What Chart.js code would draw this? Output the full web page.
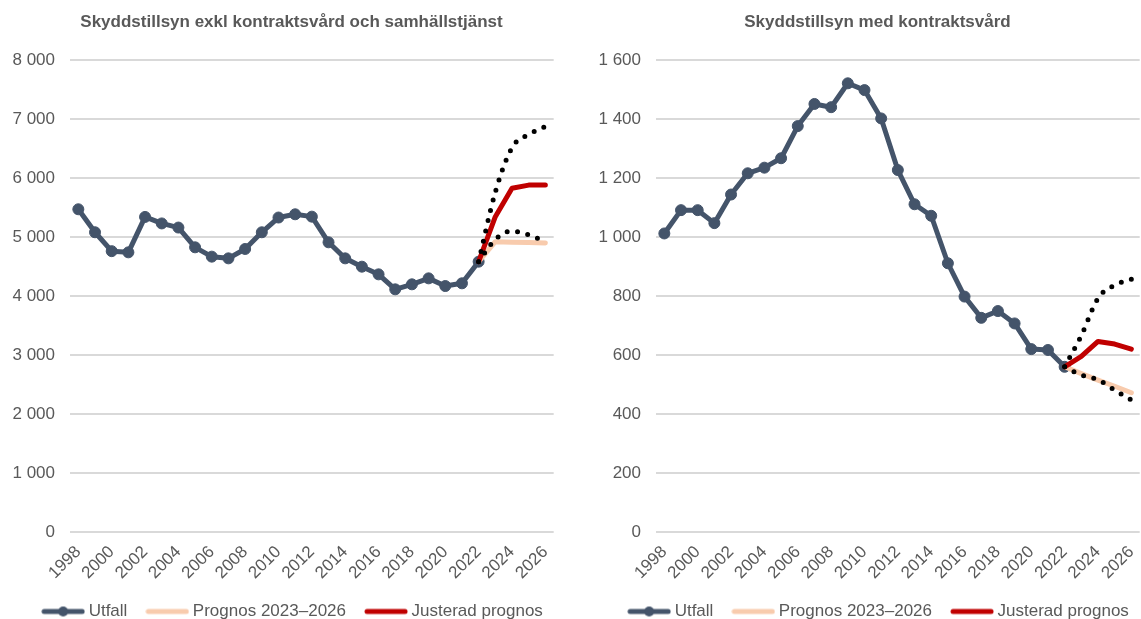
<!DOCTYPE html>
<html lang="sv">
<head>
<meta charset="utf-8">
<title>Skyddstillsyn</title>
<script src="https://cdn.jsdelivr.net/npm/chart.js@4.4.1/dist/chart.umd.min.js"></script>
<style>
  html, body { margin: 0; padding: 0; background: #ffffff; overflow: hidden; }
  #wrap { position: relative; width: 1141px; height: 619px; overflow: hidden; background: #ffffff; }
  #wrap canvas { position: absolute; top: 0; }
  #cLeft { left: 0; }
  #cRight { left: 586px; }
  .title {
    position: absolute; top: 12px; height: 20px; line-height: 20px;
    font: bold 17px "Liberation Sans", Arial, sans-serif; color: #595959;
    text-align: center; white-space: nowrap;
  }
</style>
</head>
<body>
<div id="wrap">
  <canvas id="cLeft" width="570" height="630"></canvas>
  <canvas id="cRight" width="570" height="630"></canvas>
  <div class="title" style="left:0;width:583px">Skyddstillsyn exkl kontraktsvård och samhällstjänst</div>
  <div class="title" style="left:614px;width:527px">Skyddstillsyn med kontraktsvård</div>
</div>
<script>
// Years on the category axis
const years = ['1998', '1999', '2000', '2001', '2002', '2003', '2004', '2005', '2006', '2007',
  '2008', '2009', '2010', '2011', '2012', '2013', '2014', '2015', '2016', '2017',
  '2018', '2019', '2020', '2021', '2022', '2023', '2024', '2025', '2026'];

// Legend names
const seriesNames = ['Utfall', 'Prognos 2023–2026', 'Justerad prognos'];
const scenarioNames = ['Högt scenario', 'Lågt scenario'];

// Skyddstillsyn exkl kontraktsvård och samhällstjänst
const leftUtfall = [5470, 5080, 4760, 4740, 5340, 5230, 5160, 4825, 4667, 4638,
  4797, 5080, 5330, 5385, 5345, 4910, 4638, 4497, 4367, 4113,
  4198, 4299, 4169, 4215, 4582, null, null, null, null];
const leftPrognos = [null, null, null, null, null, null, null, null, null, null,
  null, null, null, null, null, null, null, null, null, null,
  null, null, null, null, 4582, 4920, 4910, 4905, 4900];
const leftJusterad = [null, null, null, null, null, null, null, null, null, null,
  null, null, null, null, null, null, null, null, null, null,
  null, null, null, null, 4582, 5345, 5825, 5880, 5880];
const leftHog = [null, null, null, null, null, null, null, null, null, null,
  null, null, null, null, null, null, null, null, null, null,
  null, null, null, null, 4582, 5760, 6513, 6740, 6870];
const leftLag = [null, null, null, null, null, null, null, null, null, null,
  null, null, null, null, null, null, null, null, null, null,
  null, null, null, null, 4582, 4960, 5100, 5035, 4920];

// Skyddstillsyn med kontraktsvård
const rightUtfall = [1012, 1091, 1091, 1047, 1144, 1216, 1235, 1267, 1376, 1451,
  1440, 1521, 1498, 1402, 1227, 1111, 1072, 911, 798, 726,
  749, 707, 620, 617, 560, null, null, null, null];
const rightPrognos = [null, null, null, null, null, null, null, null, null, null,
  null, null, null, null, null, null, null, null, null, null,
  null, null, null, null, 560, 537, 515, 494, 472];
const rightJusterad = [null, null, null, null, null, null, null, null, null, null,
  null, null, null, null, null, null, null, null, null, null,
  null, null, null, null, 560, 595, 646, 637, 620];
const rightHog = [null, null, null, null, null, null, null, null, null, null,
  null, null, null, null, null, null, null, null, null, null,
  null, null, null, null, 560, 666, 792, 837, 857];
const rightLag = [null, null, null, null, null, null, null, null, null, null,
  null, null, null, null, null, null, null, null, null, null,
  null, null, null, null, 560, 532, 516, 481, 448];

// Y axis ranges
const leftAxis = { max: 8000, step: 1000 };
const rightAxis = { max: 1600, step: 200 };

const COLORS = { utfall: '#44546A', prognos: '#F8CBAD', justerad: '#C00000', scenario: '#000000' };
const TEXT_COLOR = '#595959';
const GRID_COLOR = '#D9D9D9';
const FONT_FAMILY = '"Liberation Sans", Arial, sans-serif';

// Swedish number format with a space as thousands separator
function formatSv(v) {
  return String(v).replace(/\B(?=(\d{3})+(?!\d))/g, ' ');
}

// Small line icons for the legend
function lineIcon(color, withDot) {
  const c = document.createElement('canvas');
  c.width = 44; c.height = 14;
  const g = c.getContext('2d');
  g.strokeStyle = color; g.lineWidth = 5; g.lineCap = 'round';
  g.beginPath(); g.moveTo(3, 7); g.lineTo(41, 7); g.stroke();
  if (withDot) {
    g.fillStyle = color;
    g.beginPath(); g.arc(22, 7, 5, 0, Math.PI * 2); g.fill();
  }
  return c;
}
const legendIcons = [
  lineIcon(COLORS.utfall, true),
  lineIcon(COLORS.prognos, false),
  lineIcon(COLORS.justerad, false)
];

// Moves the legend row sideways after the layout has been computed
const legendShift = {
  id: 'legendShift',
  afterLayout(chart, args, opts) {
    if (chart.legend) {
      chart.legend.left += opts.dx || 0;
      chart.legend.right += opts.dx || 0;
    }
  }
};

function buildChart(canvasId, utfall, prognos, justerad, hog, lag, axis) {
  const solid = { borderWidth: 5, pointRadius: 0, pointHoverRadius: 0, borderJoinStyle: 'round', borderCapStyle: 'round', fill: false };
  const dotted = { borderWidth: 5, borderDash: [0, 10.5], borderCapStyle: 'round', pointRadius: 0, pointHoverRadius: 0,
    cubicInterpolationMode: 'monotone', borderColor: COLORS.scenario, fill: false };
  const datasets = [
    { label: seriesNames[0], data: utfall, borderColor: COLORS.utfall, backgroundColor: COLORS.utfall,
      borderWidth: 5, borderJoinStyle: 'round', pointRadius: 5.5, pointHoverRadius: 5.5, pointBorderWidth: 1,
      pointBackgroundColor: COLORS.utfall, pointBorderColor: COLORS.utfall, order: 5, fill: false },
    Object.assign({ label: seriesNames[1], data: prognos, borderColor: COLORS.prognos, order: 4 }, solid),
    Object.assign({ label: seriesNames[2], data: justerad, borderColor: COLORS.justerad, order: 3 }, solid),
    Object.assign({ label: scenarioNames[0], data: hog, order: 2 }, dotted),
    Object.assign({ label: scenarioNames[1], data: lag, order: 1 }, dotted)
  ];

  return new Chart(document.getElementById(canvasId), {
    type: 'line',
    data: { labels: years, datasets: datasets },
    plugins: [legendShift],
    options: {
      responsive: false,
      animation: false,
      events: [],
      layout: { padding: { top: 60, right: 13, bottom: 0, left: 0 } },
      plugins: {
        legendShift: { dx: 16 },
        title: { display: false },
        tooltip: { enabled: false },
        legend: {
          position: 'bottom',
          align: 'center',
          labels: {
            usePointStyle: true,
            pointStyleWidth: 34,
            padding: 23,
            color: TEXT_COLOR,
            font: { family: FONT_FAMILY, size: 17 },
            generateLabels: (chart) => chart.data.datasets
              .map((ds, i) => ({ ds, i }))
              .filter(o => seriesNames.indexOf(o.ds.label) >= 0)
              .map(o => ({
                text: o.ds.label,
                pointStyle: legendIcons[seriesNames.indexOf(o.ds.label)],
                fontColor: TEXT_COLOR,
                fillStyle: 'rgba(0,0,0,0)',
                strokeStyle: 'rgba(0,0,0,0)',
                lineWidth: 0,
                hidden: false,
                datasetIndex: o.i
              }))
          }
        }
      },
      scales: {
        x: {
          offset: true,
          grid: { display: false, drawTicks: false },
          border: { display: false },
          ticks: {
            autoSkip: false, minRotation: 45, maxRotation: 45, padding: 10,
            color: TEXT_COLOR, font: { family: FONT_FAMILY, size: 17 },
            callback: (value, index) => (index % 2 === 0 ? years[index] : '')
          },
          afterFit: (scale) => { scale.height = 48; }
        },
        y: {
          min: 0, max: axis.max,
          grid: { color: GRID_COLOR, lineWidth: 2, drawTicks: false },
          border: { display: false },
          ticks: {
            stepSize: axis.step, padding: 15,
            color: TEXT_COLOR, font: { family: FONT_FAMILY, size: 17 },
            callback: (v) => formatSv(v)
          },
          afterFit: (scale) => { scale.width = 70; }
        }
      }
    }
  });
}

buildChart('cLeft', leftUtfall, leftPrognos, leftJusterad, leftHog, leftLag, leftAxis);
buildChart('cRight', rightUtfall, rightPrognos, rightJusterad, rightHog, rightLag, rightAxis);
</script>
</body>
</html>
